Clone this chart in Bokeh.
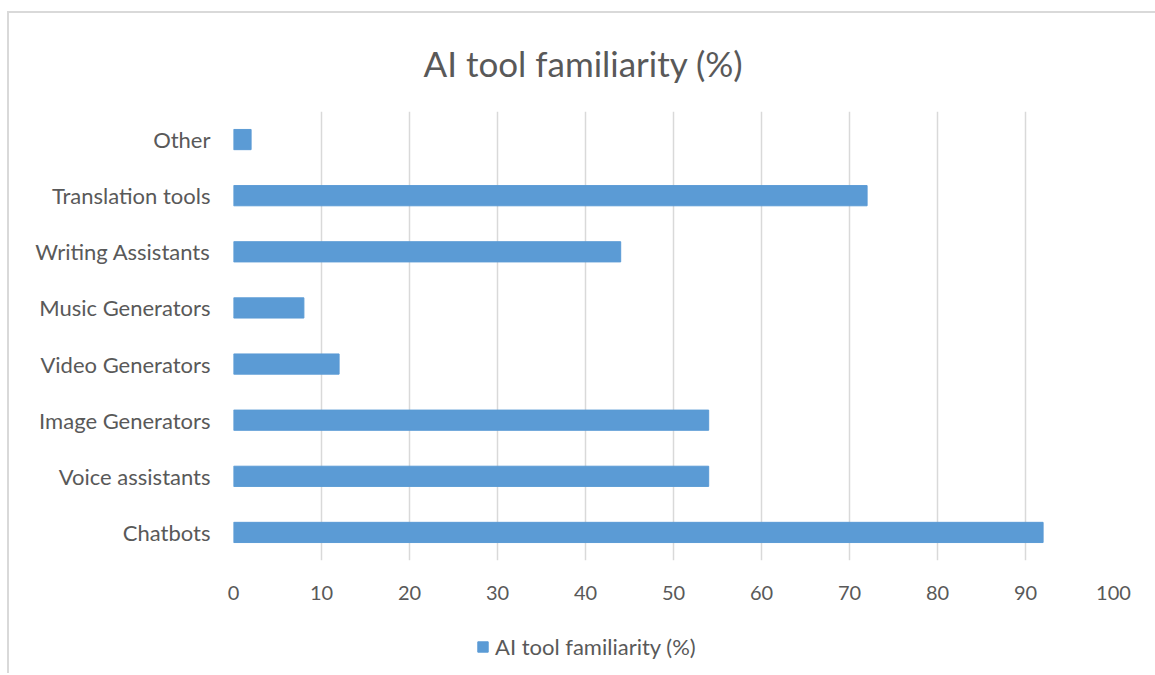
from bokeh.plotting import figure
from bokeh.layouts import column
from bokeh.models import (Range1d, FactorRange, Legend, LegendItem, Title,
                          ColumnDataSource)
from bokeh.embed import file_html
from bokeh.resources import INLINE

categories = ["Chatbots", "Voice assistants", "Image Generators", "Video Generators",
              "Music Generators", "Writing Assistants", "Translation tools", "Other"]
values = [92, 54, 54, 12, 8, 44, 72, 2]
x_ticks = [0, 10, 20, 30, 40, 50, 60, 70, 80, 90, 100]
series_name = "AI tool familiarity (%)"
title_text = "AI tool familiarity (%)"

FONT = "Lato"
GREY = "#595959"
BAR = "#5b9bd5"

source = ColumnDataSource(data=dict(cat=categories, val=values))

p = figure(width=1146, height=615, y_range=FactorRange(*categories, range_padding=0),
           x_range=Range1d(0, 100), output_backend="svg", toolbar_location=None,
           min_border_left=224, min_border_right=42, min_border_top=98,
           min_border_bottom=68)
p.outline_line_color = None

r = p.hbar(y="cat", right="val", left=0, height=0.36, color=BAR, source=source)

t = Title(text=title_text, align="left", offset=190, text_font=FONT,
          text_font_size="35px", text_font_style="normal", text_color=GREY,
          vertical_align="top", standoff=52)
p.add_layout(t, "above")

p.xaxis.ticker = x_ticks
p.xaxis.axis_line_color = None
p.xaxis.major_tick_line_color = None
p.xaxis.minor_tick_line_color = None
p.xaxis.major_label_text_font = FONT
p.xaxis.major_label_text_font_size = "20px"
p.xaxis.major_label_text_color = GREY
p.xaxis.major_label_standoff = 19

p.yaxis.axis_line_color = None
p.yaxis.major_tick_line_color = None
p.yaxis.major_label_text_font = FONT
p.yaxis.major_label_text_font_size = "22px"
p.yaxis.major_label_text_color = GREY
p.yaxis.major_label_standoff = 17

p.ygrid.grid_line_color = None
p.xgrid.grid_line_color = "#d9d9d9"
p.xgrid.grid_line_width = 1.5

# legend strip below the chart; its renderer holds the same series but is not drawn
p2 = figure(width=1146, height=45, x_range=p.x_range,
            y_range=FactorRange(*categories, range_padding=0),
            output_backend="svg", toolbar_location=None, x_axis_type=None,
            y_axis_type=None, min_border=0)
p2.outline_line_color = None
p2.grid.visible = False
r2 = p2.hbar(y="cat", right="val", left=0, height=0.36, color=BAR, source=source,
             visible=False)

legend = Legend(items=[LegendItem(label=series_name, renderers=[r2])],
                location=(243, 13), orientation="horizontal",
                label_text_font=FONT, label_text_font_size="22px",
                label_text_color=GREY, glyph_width=13, glyph_height=13,
                label_standoff=6, padding=0, margin=0, border_line_color=None,
                background_fill_alpha=0, inactive_fill_alpha=0)
p2.add_layout(legend, "center")

layout = column(p, p2, spacing=0)
layout.margin = (11, 0, 0, 7)
layout.styles = {"border-top": "2px solid #d9d9d9", "border-left": "2px solid #d9d9d9"}

open("out.html", "w").write(file_html(layout, INLINE))
